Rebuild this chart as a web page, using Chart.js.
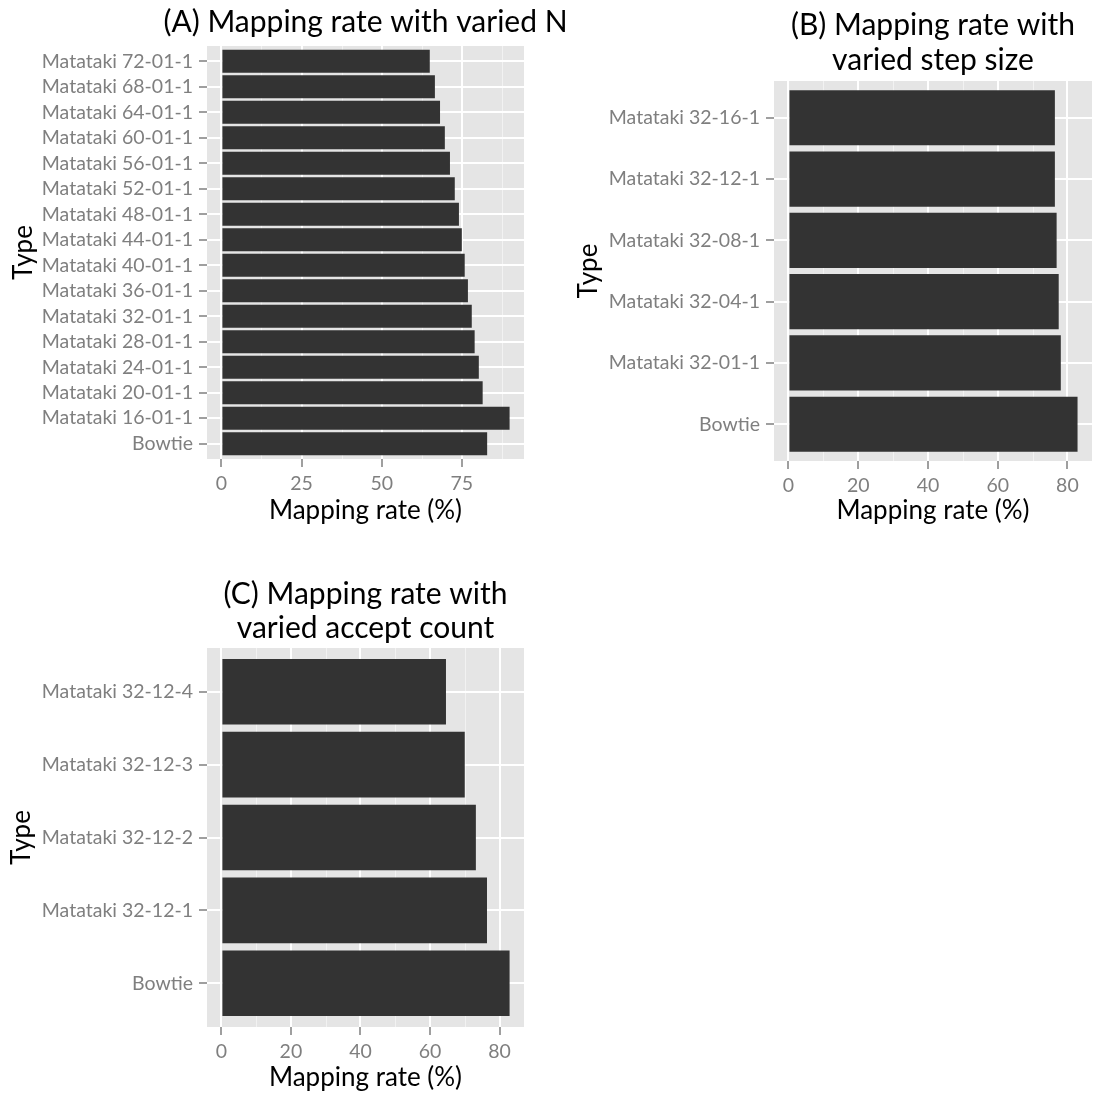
<!DOCTYPE html>
<html>
<head>
<meta charset="utf-8">
<script src="https://cdn.jsdelivr.net/npm/chart.js@4"></script>
<style>
  html, body { margin: 0; padding: 0; background: #ffffff; }
  body { width: 1094px; height: 1095px; position: relative; overflow: hidden; }
  canvas { position: absolute; }
</style>
</head>
<body>
<canvas id="panelA" width="600" height="530" style="left:0px;top:0px"></canvas>
<canvas id="panelC" width="600" height="545" style="left:0px;top:550px"></canvas>
<canvas id="panelB" width="547" height="530" style="left:547px;top:0px"></canvas>
<script>
// (A) varied N
const typesN = ['Bowtie', 'Matataki 16-01-1', 'Matataki 20-01-1', 'Matataki 24-01-1',
  'Matataki 28-01-1', 'Matataki 32-01-1', 'Matataki 36-01-1', 'Matataki 40-01-1',
  'Matataki 44-01-1', 'Matataki 48-01-1', 'Matataki 52-01-1', 'Matataki 56-01-1',
  'Matataki 60-01-1', 'Matataki 64-01-1', 'Matataki 68-01-1', 'Matataki 72-01-1'];
const rateN = [82.9, 89.9, 81.5, 80.3, 79.0, 78.1, 76.9, 75.9, 75.0, 74.1, 72.8, 71.3, 69.7, 68.2, 66.6, 65.0];
const breaksN = [0, 25, 50, 75];

// (B) varied step size
const typesStep = ['Bowtie', 'Matataki 32-01-1', 'Matataki 32-04-1', 'Matataki 32-08-1',
  'Matataki 32-12-1', 'Matataki 32-16-1'];
const rateStep = [82.9, 78.1, 77.5, 76.9, 76.4, 76.4];
const breaksStep = [0, 20, 40, 60, 80];

// (C) varied accept count
const typesAccept = ['Bowtie', 'Matataki 32-12-1', 'Matataki 32-12-2', 'Matataki 32-12-3', 'Matataki 32-12-4'];
const rateAccept = [82.9, 76.4, 73.2, 70.0, 64.6];
const breaksAccept = [0, 20, 40, 60, 80];

const FONT = "Lato, 'Noto Sans', 'DejaVu Sans', sans-serif";
const GREY50 = '#7F7F7F';

// Grey panel with light minor grid lines half-way between the major breaks
const panelBackdrop = {
  id: 'panelBackdrop',
  beforeDraw(chart) {
    const { ctx, chartArea: a } = chart;
    const x = chart.scales.x;
    ctx.save();
    ctx.fillStyle = '#E5E5E5';
    ctx.fillRect(a.left, a.top, a.right - a.left, a.bottom - a.top);
    const major = x.ticks.map(t => t.value);
    const step = major[1] - major[0];
    ctx.strokeStyle = '#F2F2F2';
    ctx.lineWidth = 1;
    for (let v = major[0] - step / 2; v <= x.max; v += step) {
      if (v < x.min) continue;
      const px = Math.round(x.getPixelForValue(v)) + 0.5;
      ctx.beginPath();
      ctx.moveTo(px, a.top);
      ctx.lineTo(px, a.bottom);
      ctx.stroke();
    }
    ctx.restore();
  }
};

// Plot title centred over the panel rather than over the whole canvas
const panelTitle = {
  id: 'panelTitle',
  afterDraw(chart, args, opts) {
    const { ctx, chartArea: a } = chart;
    ctx.save();
    ctx.fillStyle = '#000000';
    ctx.font = `${opts.size}px ${FONT}`;
    ctx.textAlign = 'center';
    ctx.textBaseline = 'middle';
    const cx = (a.left + a.right) / 2;
    opts.lines.forEach((line, i) => {
      ctx.fillText(line, cx, opts.firstLine + i * opts.lineGap);
    });
    ctx.restore();
  }
};

function drawPanel(id, types, rates, breaks, titleLines, geo) {
  const top = Math.max(...rates);
  const gridStyle = {
    color: '#FFFFFF', lineWidth: 2, offset: false,
    tickColor: GREY50, tickLength: 8, tickWidth: 1.5
  };
  new Chart(document.getElementById(id), {
    type: 'bar',
    data: {
      datasets: [{
        data: rates.map((v, i) => ({ x: v, y: i })),
        backgroundColor: '#333333',
        borderWidth: 0,
        categoryPercentage: 0.9,
        barPercentage: 1.0
      }]
    },
    options: {
      indexAxis: 'y',
      responsive: false,
      animation: false,
      devicePixelRatio: 1,
      layout: { padding: { left: 0, right: geo.padRight, top: geo.panelTop, bottom: 0 } },
      plugins: {
        legend: { display: false },
        tooltip: { enabled: false },
        title: { display: false },
        panelTitle: { lines: titleLines, size: 30, lineGap: 34.5, firstLine: geo.titleLine }
      },
      scales: {
        x: {
          type: 'linear',
          min: -0.05 * top,
          max: 1.05 * top,
          afterBuildTicks: s => { s.ticks = breaks.map(v => ({ value: v })); },
          afterFit: s => { s.height = geo.xHeight; },
          grid: gridStyle,
          border: { display: false },
          ticks: { color: GREY50, font: { family: FONT, size: 19.5 }, padding: 5, maxRotation: 0 },
          title: {
            display: true, text: 'Mapping rate (%)', color: '#000000',
            font: { family: FONT, size: 26 }, padding: { top: 0, bottom: geo.xTitleBottom }
          }
        },
        y: {
          type: 'linear',
          offset: false,
          min: -0.6,
          max: types.length - 0.4,
          afterBuildTicks: s => { s.ticks = types.map((_, i) => ({ value: i })); },
          afterFit: s => { s.width = geo.yWidth; },
          grid: gridStyle,
          border: { display: false },
          ticks: { color: GREY50, font: { family: FONT, size: 19.5 }, padding: 6, callback: v => types[v] },
          title: {
            display: true, text: 'Type', color: '#000000',
            font: { family: FONT, size: 26 }, padding: { top: geo.yTitleTop, bottom: 0 }
          }
        }
      }
    },
    plugins: [panelBackdrop, panelTitle]
  });
}

drawPanel('panelA', typesN, rateN, breaksN, ['(A) Mapping rate with varied N'],
  { padRight: 76, panelTop: 46, yWidth: 207, xHeight: 71, titleLine: 22, xTitleBottom: 3.4, yTitleTop: 8.4 });
drawPanel('panelB', typesStep, rateStep, breaksStep, ['(B) Mapping rate with', 'varied step size'],
  { padRight: 2, panelTop: 81, yWidth: 227, xHeight: 69, titleLine: 25.5, xTitleBottom: 3.4, yTitleTop: 26.4 });
drawPanel('panelC', typesAccept, rateAccept, breaksAccept, ['(C) Mapping rate with', 'varied accept count'],
  { padRight: 76, panelTop: 98, yWidth: 207, xHeight: 68, titleLine: 44, xTitleBottom: 1.4, yTitleTop: 6.4 });
</script>
</body>
</html>
